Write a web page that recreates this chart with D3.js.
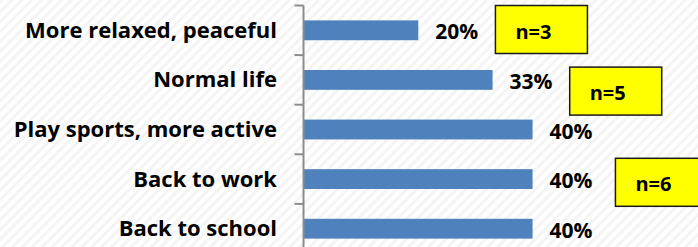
<!DOCTYPE html>
<html lang="en">
<head>
<meta charset="UTF-8">
<title>Expected changes</title>
<script src="https://d3js.org/d3.v7.min.js"></script>
<style>
  body, html { margin: 0; padding: 0; background: #fff; }
  svg { display: block; }
  .cat { font: bold 22px "Open Sans", sans-serif; fill: #000; }
  .val { font: bold 21px "Open Sans", sans-serif; fill: #000; }
  .note { font: bold 20px "Open Sans", sans-serif; fill: #000; }
</style>
</head>
<body>
<div id="chart"></div>
<script>
// categories top to bottom
const categories = ["More relaxed, peaceful", "Normal life", "Play sports, more active", "Back to work", "Back to school"];
const values = [20, 33, 40, 40, 40];
const valueLabels = ["20%", "33%", "40%", "40%", "40%"];
const noteLabels = ["n=3", "n=5", "n=6"];

const width = 698, height = 247;

const svg = d3.select("#chart").append("svg")
    .attr("width", width)
    .attr("height", height);

// faint diagonal hatch background
const defs = svg.append("defs");
const pat = defs.append("pattern")
    .attr("id", "hatch")
    .attr("patternUnits", "userSpaceOnUse")
    .attr("width", 7).attr("height", 7)
    .attr("patternTransform", "rotate(45)");
pat.append("rect").attr("width", 7).attr("height", 7).attr("fill", "#fff");
pat.append("rect").attr("width", 3).attr("height", 7).attr("fill", "#f4f4f4");
svg.append("rect").attr("width", width).attr("height", height).attr("fill", "url(#hatch)");

const x = d3.scaleLinear().domain([0, 70]).range([304, 704]);
const y = d3.scaleBand().domain(categories).range([5.5, 253.5]).paddingInner(0.6).paddingOuter(0.3);

// bars
svg.selectAll(".bar")
    .data(categories)
    .enter().append("rect")
    .attr("class", "bar")
    .attr("x", x(0))
    .attr("y", d => y(d))
    .attr("width", (d, i) => x(values[i]) - x(0))
    .attr("height", y.bandwidth())
    .attr("fill", "#4F81BD");

// axis with ticks between categories
const axisX = x(0) - 0.5;
const g = svg.append("g").attr("stroke", "#8c8c8c").attr("stroke-width", 2);
g.append("line").attr("x1", axisX).attr("x2", axisX).attr("y1", y.range()[0]).attr("y2", y.range()[1]);
const step = y.step();
d3.range(categories.length + 1).forEach(i => {
    const ty = y.range()[0] + i * step;
    g.append("line").attr("x1", axisX - 9).attr("x2", axisX).attr("y1", ty).attr("y2", ty);
});

// category labels
svg.selectAll(".cat")
    .data(categories)
    .enter().append("text")
    .attr("class", "cat")
    .attr("x", x(0) - 27)
    .attr("y", d => y(d) + y.bandwidth() / 2 + 7.5)
    .attr("text-anchor", "end")
    .text(d => d);

// value labels
svg.selectAll(".val")
    .data(categories)
    .enter().append("text")
    .attr("class", "val")
    .attr("x", (d, i) => x(values[i]) + 17)
    .attr("y", d => y(d) + y.bandwidth() / 2 + 9)
    .text((d, i) => valueLabels[i]);

// yellow sample-size boxes
const boxes = [
    { at: 33.5, row: 0, dy: 0 },
    { at: 46.5, row: 1, dy: 12 },
    { at: 54.5, row: 3, dy: 4 }
];
boxes.forEach((b, i) => {
    const bx = x(b.at);
    const by = y.range()[0] + b.row * step + b.dy;
    svg.append("rect")
        .attr("x", bx).attr("y", by)
        .attr("width", 92).attr("height", 48)
        .attr("fill", "#ffff00")
        .attr("stroke", "#1a1a1a")
        .attr("stroke-width", 1.5);
    svg.append("text")
        .attr("class", "note")
        .attr("x", bx + 20)
        .attr("y", by + 33)
        .text(noteLabels[i]);
});
</script>
</body>
</html>
